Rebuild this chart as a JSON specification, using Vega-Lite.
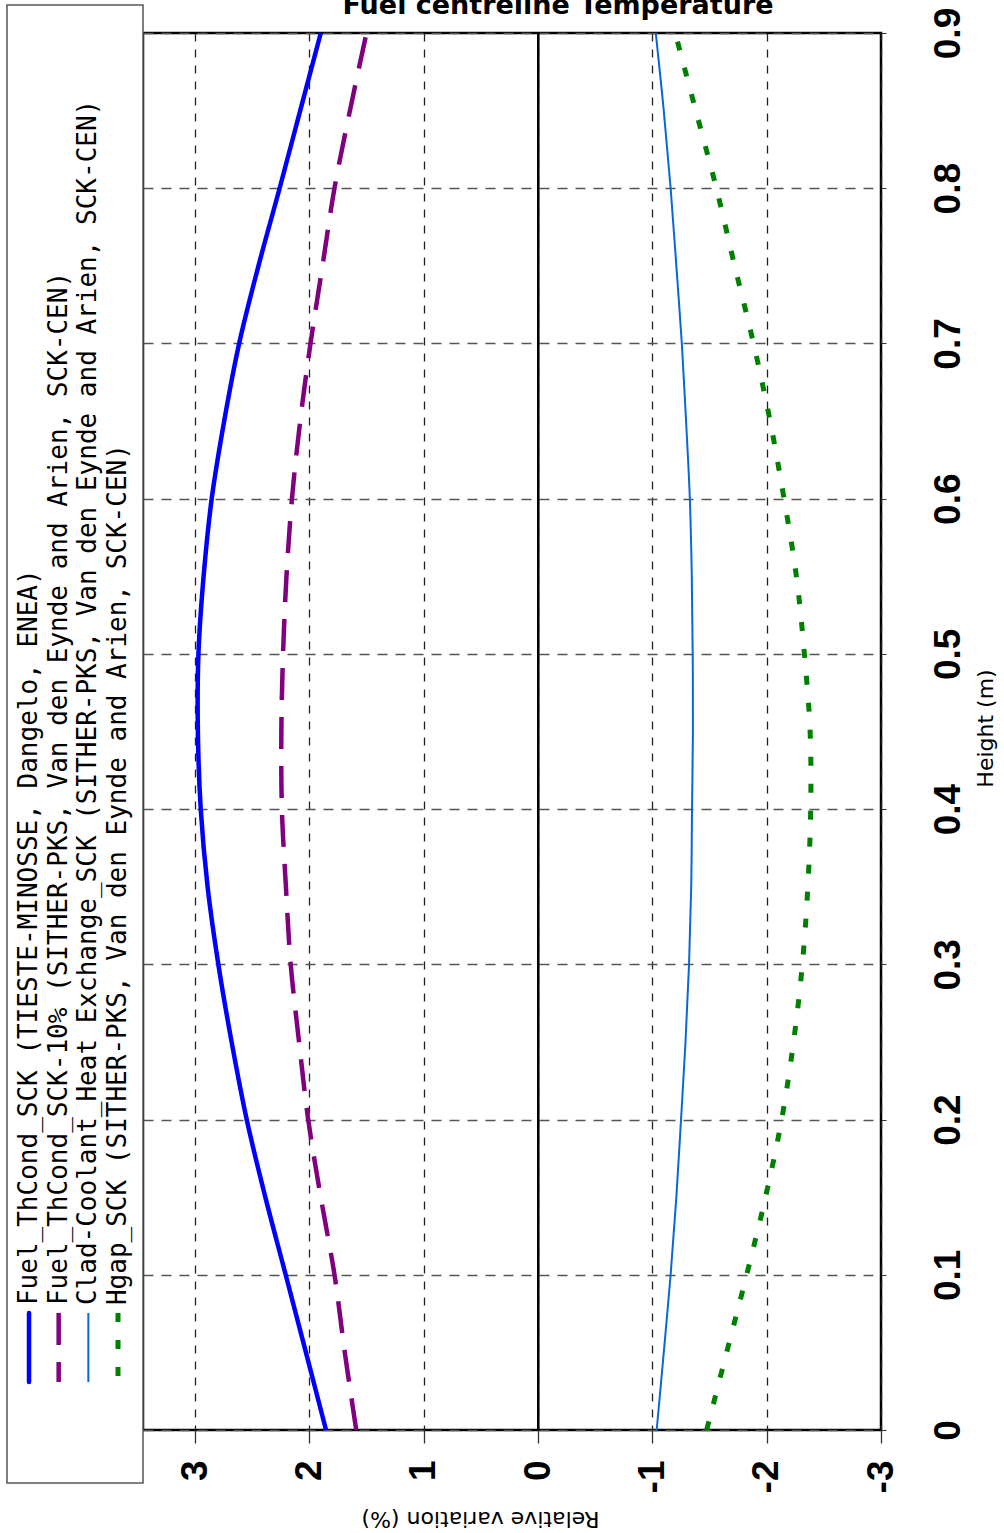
{
  "$schema": "https://vega.github.io/schema/vega-lite/v6.json",
  "width": 738,
  "height": 1397,
  "autosize": "none",
  "padding": {"left": 143, "top": 33, "right": 123, "bottom": 103},
  "background": "white",
  "config": {"view": {"stroke": "black", "strokeWidth": 2.5}, "font": "DejaVu Sans"},
  "title": {"text": "Fuel centreline Temperature", "fontSize": 27, "fontWeight": "bold", "font": "DejaVu Sans", "baseline": "alphabetic", "frame": "group", "offset": 0, "dy": 37, "dx": 46, "anchor": "middle", "color": "black"},
  "datasets": {
    "curves": [
      {"s": "Fuel_ThCond_SCK", "h": 0.0, "v": 1.854}, {"s": "Fuel_ThCond_SCK", "h": 0.05, "v": 2.03}, {"s": "Fuel_ThCond_SCK", "h": 0.1, "v": 2.207}, {"s": "Fuel_ThCond_SCK", "h": 0.15, "v": 2.385}, {"s": "Fuel_ThCond_SCK", "h": 0.2, "v": 2.548}, {"s": "Fuel_ThCond_SCK", "h": 0.25, "v": 2.68}, {"s": "Fuel_ThCond_SCK", "h": 0.3, "v": 2.796}, {"s": "Fuel_ThCond_SCK", "h": 0.35, "v": 2.89}, {"s": "Fuel_ThCond_SCK", "h": 0.4, "v": 2.95}, {"s": "Fuel_ThCond_SCK", "h": 0.45, "v": 2.975}, {"s": "Fuel_ThCond_SCK", "h": 0.5, "v": 2.97}, {"s": "Fuel_ThCond_SCK", "h": 0.55, "v": 2.925}, {"s": "Fuel_ThCond_SCK", "h": 0.6, "v": 2.854}, {"s": "Fuel_ThCond_SCK", "h": 0.65, "v": 2.745}, {"s": "Fuel_ThCond_SCK", "h": 0.7, "v": 2.614}, {"s": "Fuel_ThCond_SCK", "h": 0.75, "v": 2.445}, {"s": "Fuel_ThCond_SCK", "h": 0.8, "v": 2.26}, {"s": "Fuel_ThCond_SCK", "h": 0.85, "v": 2.08}, {"s": "Fuel_ThCond_SCK", "h": 0.9, "v": 1.9},
      {"s": "Fuel_ThCond_SCK-10%", "h": 0.0, "v": 1.59}, {"s": "Fuel_ThCond_SCK-10%", "h": 0.05, "v": 1.69}, {"s": "Fuel_ThCond_SCK-10%", "h": 0.1, "v": 1.78}, {"s": "Fuel_ThCond_SCK-10%", "h": 0.15, "v": 1.9}, {"s": "Fuel_ThCond_SCK-10%", "h": 0.2, "v": 2.01}, {"s": "Fuel_ThCond_SCK-10%", "h": 0.25, "v": 2.09}, {"s": "Fuel_ThCond_SCK-10%", "h": 0.3, "v": 2.163}, {"s": "Fuel_ThCond_SCK-10%", "h": 0.35, "v": 2.205}, {"s": "Fuel_ThCond_SCK-10%", "h": 0.4, "v": 2.24}, {"s": "Fuel_ThCond_SCK-10%", "h": 0.45, "v": 2.245}, {"s": "Fuel_ThCond_SCK-10%", "h": 0.5, "v": 2.23}, {"s": "Fuel_ThCond_SCK-10%", "h": 0.55, "v": 2.2}, {"s": "Fuel_ThCond_SCK-10%", "h": 0.6, "v": 2.152}, {"s": "Fuel_ThCond_SCK-10%", "h": 0.65, "v": 2.08}, {"s": "Fuel_ThCond_SCK-10%", "h": 0.7, "v": 1.99}, {"s": "Fuel_ThCond_SCK-10%", "h": 0.75, "v": 1.885}, {"s": "Fuel_ThCond_SCK-10%", "h": 0.8, "v": 1.78}, {"s": "Fuel_ThCond_SCK-10%", "h": 0.85, "v": 1.645}, {"s": "Fuel_ThCond_SCK-10%", "h": 0.9, "v": 1.5},
      {"s": "Clad-Coolant_Heat Exchange_SCK", "h": 0.0, "v": -1.038}, {"s": "Clad-Coolant_Heat Exchange_SCK", "h": 0.05, "v": -1.1}, {"s": "Clad-Coolant_Heat Exchange_SCK", "h": 0.1, "v": -1.16}, {"s": "Clad-Coolant_Heat Exchange_SCK", "h": 0.15, "v": -1.21}, {"s": "Clad-Coolant_Heat Exchange_SCK", "h": 0.2, "v": -1.251}, {"s": "Clad-Coolant_Heat Exchange_SCK", "h": 0.25, "v": -1.29}, {"s": "Clad-Coolant_Heat Exchange_SCK", "h": 0.3, "v": -1.321}, {"s": "Clad-Coolant_Heat Exchange_SCK", "h": 0.35, "v": -1.34}, {"s": "Clad-Coolant_Heat Exchange_SCK", "h": 0.4, "v": -1.347}, {"s": "Clad-Coolant_Heat Exchange_SCK", "h": 0.45, "v": -1.355}, {"s": "Clad-Coolant_Heat Exchange_SCK", "h": 0.5, "v": -1.353}, {"s": "Clad-Coolant_Heat Exchange_SCK", "h": 0.55, "v": -1.345}, {"s": "Clad-Coolant_Heat Exchange_SCK", "h": 0.6, "v": -1.328}, {"s": "Clad-Coolant_Heat Exchange_SCK", "h": 0.65, "v": -1.295}, {"s": "Clad-Coolant_Heat Exchange_SCK", "h": 0.7, "v": -1.258}, {"s": "Clad-Coolant_Heat Exchange_SCK", "h": 0.75, "v": -1.21}, {"s": "Clad-Coolant_Heat Exchange_SCK", "h": 0.8, "v": -1.16}, {"s": "Clad-Coolant_Heat Exchange_SCK", "h": 0.85, "v": -1.1}, {"s": "Clad-Coolant_Heat Exchange_SCK", "h": 0.9, "v": -1.03},
      {"s": "Hgap_SCK", "h": 0.0, "v": -1.475}, {"s": "Hgap_SCK", "h": 0.05, "v": -1.65}, {"s": "Hgap_SCK", "h": 0.1, "v": -1.825}, {"s": "Hgap_SCK", "h": 0.15, "v": -1.99}, {"s": "Hgap_SCK", "h": 0.2, "v": -2.131}, {"s": "Hgap_SCK", "h": 0.25, "v": -2.235}, {"s": "Hgap_SCK", "h": 0.3, "v": -2.312}, {"s": "Hgap_SCK", "h": 0.35, "v": -2.36}, {"s": "Hgap_SCK", "h": 0.4, "v": -2.385}, {"s": "Hgap_SCK", "h": 0.45, "v": -2.38}, {"s": "Hgap_SCK", "h": 0.5, "v": -2.33}, {"s": "Hgap_SCK", "h": 0.55, "v": -2.26}, {"s": "Hgap_SCK", "h": 0.6, "v": -2.152}, {"s": "Hgap_SCK", "h": 0.65, "v": -2.03}, {"s": "Hgap_SCK", "h": 0.7, "v": -1.885}, {"s": "Hgap_SCK", "h": 0.75, "v": -1.72}, {"s": "Hgap_SCK", "h": 0.8, "v": -1.56}, {"s": "Hgap_SCK", "h": 0.85, "v": -1.38}, {"s": "Hgap_SCK", "h": 0.9, "v": -1.2}
    ],
    "legend": [
      {"s": "Fuel_ThCond_SCK", "label": "Fuel_ThCond_SCK (TIESTE-MINOSSE, Dangelo, ENEA)"},
      {"s": "Fuel_ThCond_SCK-10%", "label": "Fuel_ThCond_SCK-10% (SITHER-PKS, Van den Eynde and Arien, SCK-CEN)"},
      {"s": "Clad-Coolant_Heat Exchange_SCK", "label": "Clad-Coolant_Heat Exchange_SCK (SITHER-PKS, Van den Eynde and Arien, SCK-CEN)"},
      {"s": "Hgap_SCK", "label": "Hgap_SCK (SITHER-PKS, Van den Eynde and Arien, SCK-CEN)"}
    ],
    "box": [{"a": 0}]
  },
  "layer": [
    {
      "data": {"name": "curves"},
      "encoding": {
        "x": {"field": "v", "type": "quantitative",
          "scale": {"domain": [-3, 3.455], "reverse": true, "nice": false, "zero": false},
          "axis": {"values": [3, 2, 1, 0, -1, -2, -3], "labelExpr": "datum.value + ''", "labelAngle": -90, "labelAlign": "right", "labelBaseline": "middle", "labelFont": "Liberation Sans", "labelFontSize": 37, "labelFontWeight": "bold", "labelColor": "black", "labelPadding": 17, "labelFlush": false, "labelOverlap": false, "tickSize": 13, "tickColor": "#333", "tickWidth": 1.3, "domain": false, "grid": true, "gridDash": [8, 8], "gridColor": "#222", "gridWidth": 1.3, "title": "Relative variation (%)", "titleAngle": 180, "titleFont": "DejaVu Sans", "titleFontSize": 22, "titleFontWeight": "normal", "titleColor": "black", "titleX": 337, "titleY": 88, "titleBaseline": "middle", "titleAlign": "center"}},
        "y": {"field": "h", "type": "quantitative",
          "scale": {"domain": [0, 0.9], "nice": false, "zero": false},
          "axis": {"orient": "right", "values": [0, 0.1, 0.2, 0.3, 0.4, 0.5, 0.6, 0.7, 0.8, 0.9], "format": ".1f", "labelExpr": "datum.value == 0 ? '0' : datum.label", "labelAngle": -90, "labelAlign": "center", "labelBaseline": "top", "labelFont": "Liberation Sans", "labelFontSize": 37, "labelFontWeight": "bold", "labelColor": "black", "labelPadding": 44, "labelFlush": false, "labelOverlap": false, "tickSize": 5, "tickColor": "#333", "domain": false, "grid": true, "gridDash": [10, 8], "gridColor": "#555", "gridWidth": 1.3, "title": "Height (m)", "titleAngle": -90, "titleFont": "DejaVu Sans", "titleFontSize": 22, "titleFontWeight": "normal", "titleColor": "black", "titleX": 94, "titleY": 695, "titleBaseline": "top", "titleAlign": "center"}},
        "order": {"field": "h", "type": "quantitative"}
      },
      "layer": [
        {"mark": {"type": "rule", "color": "black", "strokeWidth": 2}, "encoding": {"x": {"datum": 0, "type": "quantitative"}, "y": null, "order": null}},
        {"transform": [{"filter": "datum.s == 'Fuel_ThCond_SCK'"}], "mark": {"type": "line", "interpolate": "catmull-rom", "color": "#0000ff", "strokeWidth": 4.5}},
        {"transform": [{"filter": "datum.s == 'Fuel_ThCond_SCK-10%'"}], "mark": {"type": "line", "interpolate": "catmull-rom", "color": "#800080", "strokeWidth": 4.5, "strokeDash": [32, 17]}},
        {"transform": [{"filter": "datum.s == 'Clad-Coolant_Heat Exchange_SCK'"}], "mark": {"type": "line", "interpolate": "catmull-rom", "color": "#0a66d6", "strokeWidth": 2}},
        {"transform": [{"filter": "datum.s == 'Hgap_SCK'"}], "mark": {"type": "line", "interpolate": "catmull-rom", "color": "#008000", "strokeWidth": 5, "strokeDash": [9, 18]}}
      ]
    },
    {
      "data": {"name": "box"},
      "mark": {"type": "rect", "fill": "white", "stroke": "#555", "strokeWidth": 1.5},
      "encoding": {
        "x": {"datum": 0, "type": "quantitative", "scale": {"domain": [0, 1], "range": [-136, 0]}, "axis": null},
        "x2": {"datum": 1},
        "y": {"datum": -0.0341, "type": "quantitative"},
        "y2": {"datum": 0.918}
      }
    },
    {
      "data": {"name": "legend"},
      "encoding": {
        "x": {"field": "s", "type": "nominal", "scale": {"type": "point", "domain": ["Fuel_ThCond_SCK", "Fuel_ThCond_SCK-10%", "Clad-Coolant_Heat Exchange_SCK", "Hgap_SCK"], "range": [-114, -25], "padding": 0}, "axis": null}
      },
      "layer": [
        {"transform": [{"filter": "datum.s == 'Fuel_ThCond_SCK'"}], "mark": {"type": "rule", "color": "#0000ff", "strokeWidth": 4.5, "strokeCap": "round"}, "encoding": {"y": {"datum": 0.0754, "type": "quantitative"}, "y2": {"datum": 0.0309}}},
        {"transform": [{"filter": "datum.s == 'Fuel_ThCond_SCK-10%'"}], "mark": {"type": "rule", "color": "#800080", "strokeWidth": 4.5, "strokeDash": [32, 17]}, "encoding": {"y": {"datum": 0.0754, "type": "quantitative"}, "y2": {"datum": 0.0309}}},
        {"transform": [{"filter": "datum.s == 'Clad-Coolant_Heat Exchange_SCK'"}], "mark": {"type": "rule", "color": "#0a66d6", "strokeWidth": 2}, "encoding": {"y": {"datum": 0.0754, "type": "quantitative"}, "y2": {"datum": 0.0309}}},
        {"transform": [{"filter": "datum.s == 'Hgap_SCK'"}], "mark": {"type": "rule", "color": "#008000", "strokeWidth": 5, "strokeDash": [9, 18]}, "encoding": {"y": {"datum": 0.0754, "type": "quantitative"}, "y2": {"datum": 0.0309}}},
        {"mark": {"type": "text", "angle": 270, "align": "left", "baseline": "middle", "font": "DejaVu Sans Mono", "fontSize": 26, "color": "black"}, "encoding": {"y": {"datum": 0.0805, "type": "quantitative"}, "text": {"field": "label"}}}
      ]
    }
  ],
  "resolve": {"scale": {"x": "independent"}}
}
